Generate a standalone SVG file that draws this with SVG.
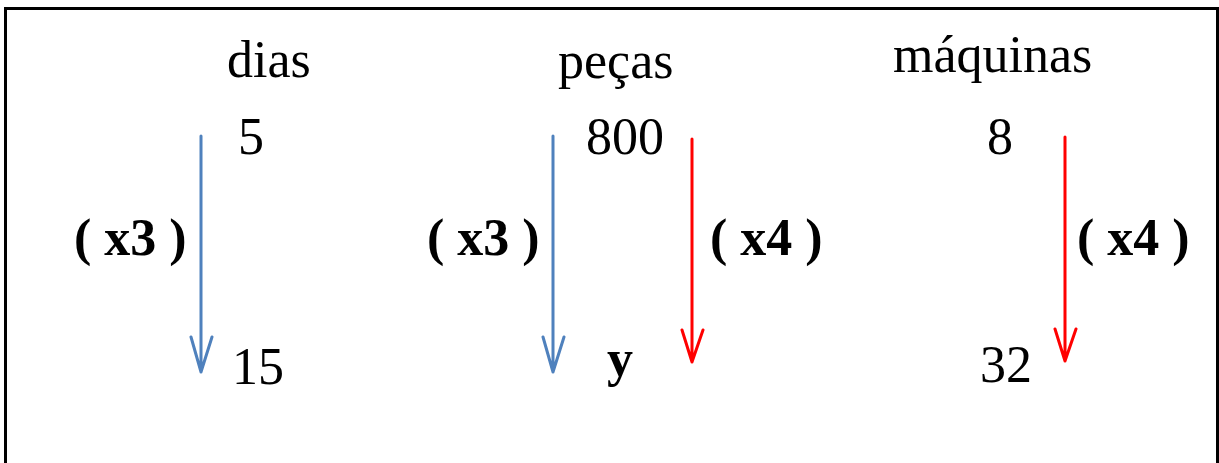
<svg xmlns="http://www.w3.org/2000/svg" width="1219" height="463" viewBox="0 0 1219 463">
<style>
text { font-family: "Liberation Serif", "Times New Roman", serif; font-size: 52px; fill: #000; }
.b { font-weight: bold; }
.blue { stroke: #4F81BD; stroke-width: 3; fill: none; stroke-linecap: round; stroke-linejoin: round; }
.red { stroke: #FF0000; stroke-width: 3; fill: none; stroke-linecap: round; stroke-linejoin: round; }
</style>
<rect x="0" y="0" width="1219" height="463" fill="#fff"/>
<rect x="5.5" y="8.5" width="1212" height="470" fill="none" stroke="#000" stroke-width="3"/>
<g id="col-dias">
<text x="227" y="77">dias</text>
<text x="238" y="154">5</text>
<text x="232" y="384">15</text>
<text class="b" x="74" y="255">( x3 )</text>
</g>
<g id="col-pecas">
<text x="558" y="78">peças</text>
<text x="586" y="154">800</text>
<text class="b" x="607" y="376">y</text>
<text class="b" x="427" y="255">( x3 )</text>
<text class="b" x="710" y="255">( x4 )</text>
</g>
<g id="col-maquinas">
<text x="893" y="72">máquinas</text>
<text x="987" y="154">8</text>
<text x="980" y="382">32</text>
<text class="b" x="1077" y="255">( x4 )</text>
</g>
<g id="connectors">
<path class="blue" d="M201 136 V372 M191 337 L201 372 L212 337"/>
<path class="blue" d="M553 136 V372 M543 337 L553 372 L564 337"/>
<path class="red" d="M692 139 V362 M682 330 L692 362 L703 330"/>
<path class="red" d="M1065 137 V361 M1055 329 L1065 361 L1076 329"/>
</g>
</svg>
